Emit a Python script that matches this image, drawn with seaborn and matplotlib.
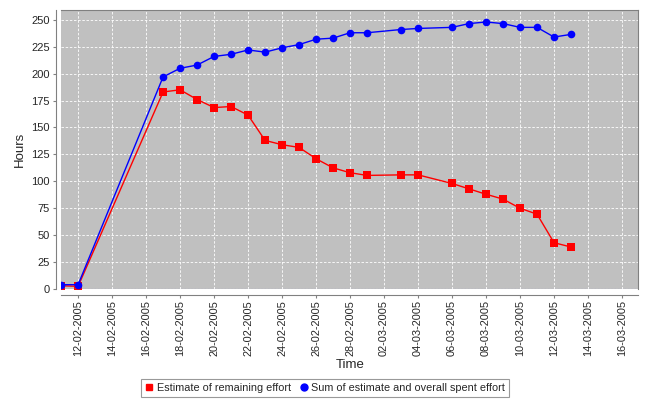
"""
Burndown style chart: remaining effort vs. total effort over time.
"""

import pandas as pd
import matplotlib

matplotlib.use("Agg")
import matplotlib.pyplot as plt
import matplotlib.dates as mdates
from matplotlib.lines import Line2D
import seaborn as sns

# data
dates = [
    "2005-02-11", "2005-02-12", "2005-02-17", "2005-02-18", "2005-02-19",
    "2005-02-20", "2005-02-21", "2005-02-22", "2005-02-23", "2005-02-24",
    "2005-02-25", "2005-02-26", "2005-02-27", "2005-02-28", "2005-03-01",
    "2005-03-03", "2005-03-04", "2005-03-06", "2005-03-07", "2005-03-08",
    "2005-03-09", "2005-03-10", "2005-03-11", "2005-03-12", "2005-03-13",
]
remaining = [
    3, 2.5, 183, 185, 176, 168.5, 169.5, 161.5, 138, 134,
    131.5, 121, 112.5, 108, 105.5, 106, 106, 98, 93, 88,
    83.5, 75, 69.5, 43, 39,
]
total = [
    4, 4, 197, 205, 208, 216, 218, 222, 220, 224,
    227, 232, 233, 238, 238, 241, 242, 243, 246.5, 248,
    246.5, 243, 243, 234, 236.5,
]
series_names = [
    "Estimate of remaining effort",
    "Sum of estimate and overall spent effort",
]
tick_dates = pd.date_range("2005-02-12", "2005-03-16", freq="2D")
y_ticks = list(range(0, 251, 25))

df = pd.DataFrame({"Time": pd.to_datetime(dates), "remaining": remaining, "total": total})

sns.set_style("white")
plt.rcParams["font.family"] = ["Liberation Sans", "DejaVu Sans"]

fig = plt.figure(figsize=(6.5, 4), dpi=100)
ax = fig.add_axes([0.094, 0.2775, 0.888, 0.6985])
ax.set_facecolor("#c0c0c0")

sns.lineplot(data=df, x="Time", y="remaining", color="#ff0000", marker="s",
             markersize=5.5, markeredgewidth=0, linewidth=1, ax=ax)
sns.lineplot(data=df, x="Time", y="total", color="#0000ff", marker="o",
             markersize=5.5, markeredgewidth=0, linewidth=1, ax=ax)

# zero baseline
ax.axhline(0, color="#6060ff", linestyle=(0, (1, 2)), linewidth=0.8)

ax.set_xlim(pd.Timestamp("2005-02-11"), pd.Timestamp("2005-03-16 23:00"))
ax.set_ylim(0, 259.5)
ax.set_xticks(tick_dates)
ax.xaxis.set_major_formatter(mdates.DateFormatter("%d-%m-%Y"))
ax.set_yticks(y_ticks)
ax.grid(True, color="white", linestyle=(0, (3, 2)), linewidth=0.6)

ax.tick_params(axis="x", rotation=90, labelsize=7.9, length=2, color="gray",
               bottom=True, pad=2)
ax.tick_params(axis="y", labelsize=8, length=2, color="gray", left=True, pad=2)

for side in ["left", "bottom"]:
    ax.spines[side].set_position(("outward", 4))
for side in ax.spines:
    ax.spines[side].set_color("#808080")
    ax.spines[side].set_linewidth(0.8)

ax.set_xlabel("Time", fontsize=9.5, labelpad=2)
ax.set_ylabel("Hours", fontsize=9.5, labelpad=4)

handles = [
    Line2D([], [], color="#ff0000", marker="s", linestyle="none", markersize=5),
    Line2D([], [], color="#0000ff", marker="o", linestyle="none", markersize=5),
]
leg = fig.legend(handles, series_names, loc="lower center", bbox_to_anchor=(0.5, 0.008),
                 ncol=2, fontsize=7.8, frameon=True, fancybox=False, handlelength=0.8,
                 handletextpad=0.3, columnspacing=0.8, borderpad=0.35, borderaxespad=0)
leg.get_frame().set_edgecolor("#808080")
leg.get_frame().set_linewidth(0.8)

plt.savefig("out.png", dpi=100)
plt.close()
